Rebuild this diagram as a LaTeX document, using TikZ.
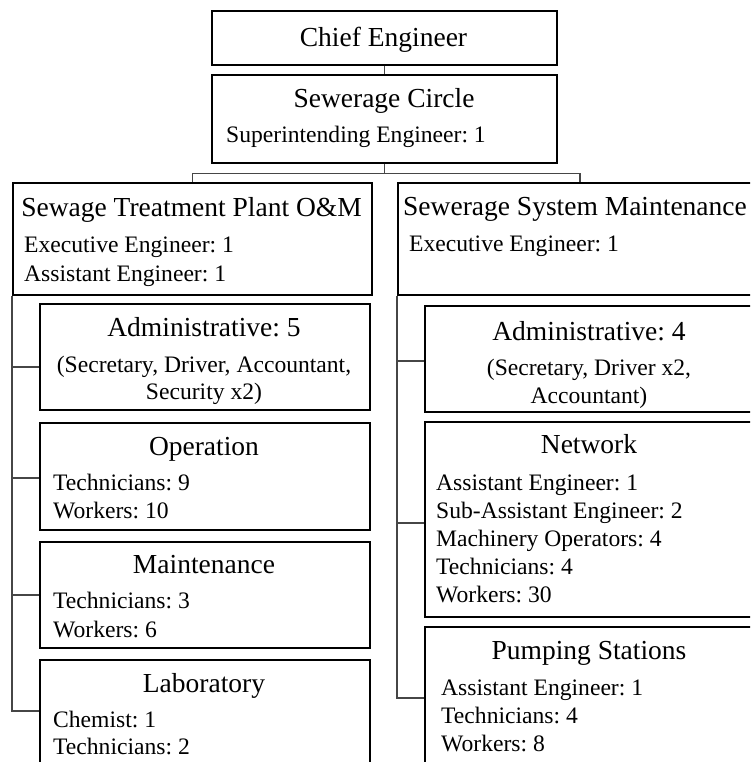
\documentclass[tikz,border=0pt]{standalone}
\usepackage{fontspec}
\setmainfont{Liberation Serif}
\frenchspacing
\definecolor{linkgray}{RGB}{70,70,70}
\begin{document}
\begin{tikzpicture}[x=1pt,y=-1pt,
  box/.style={draw=black,line width=1.8pt,inner sep=0pt,anchor=north west},
  conn/.style={draw=linkgray,line width=1.3pt},
  ttl/.style={inner sep=0pt,anchor=base,font=\fontsize{27.5pt}{33pt}\selectfont},
  ttlL/.style={inner sep=0pt,anchor=base west,font=\fontsize{27.5pt}{33pt}\selectfont},
  txt/.style={inner sep=0pt,anchor=base west,font=\fontsize{23.6pt}{28pt}\selectfont},
  txtC/.style={inner sep=0pt,anchor=base,font=\fontsize{23.6pt}{28pt}\selectfont}]
\useasboundingbox (0,0) rectangle (750,762);
\clip (0,0) rectangle (750,762);

% boxes
\node[box,minimum width=345pt,minimum height=54pt] (chief) at (211,10) {};
\node[box,minimum width=345pt,minimum height=88pt] (circle) at (211,74) {};
\node[box,minimum width=359pt,minimum height=112pt] (stp) at (12,182) {};
\node[box,minimum width=358pt,minimum height=112pt] (ssm) at (397,182) {};
\node[box,minimum width=330pt,minimum height=106pt] (adm5) at (39,303) {};
\node[box,minimum width=330pt,minimum height=107pt] (oper) at (39,422) {};
\node[box,minimum width=330pt,minimum height=106pt] (maint) at (39,541) {};
\node[box,minimum width=330pt,minimum height=111pt] (lab) at (39,659) {};
\node[box,minimum width=331pt,minimum height=106pt] (adm4) at (424,305) {};
\node[box,minimum width=331pt,minimum height=195pt] (net) at (424,421) {};
\node[box,minimum width=331pt,minimum height=149pt] (pump) at (424,626) {};

% connectors
\draw[conn] (chief.south) -- (circle.north);
\coordinate (busmid) at ([yshift=-10pt]circle.south);
\draw[conn] (circle.south) -- (busmid);
\draw[conn] (busmid) -| (stp.north);
\draw[conn] (busmid) -| ([xshift=3pt]ssm.north);
\draw[conn] (stp.south west) |- ([yshift=-10pt]adm5.west);
\draw[conn] (stp.south west) |- ([yshift=-1.5pt]oper.west);
\draw[conn] (stp.south west) |- (maint.west);
\draw[conn] (stp.south west) |- ([yshift=4.5pt]lab.west);
\draw[conn] (ssm.south west) |- ([yshift=-2pt]adm4.west);
\draw[conn] (ssm.south west) |- ([yshift=-3.5pt]net.west);
\draw[conn] (ssm.south west) |- ([yshift=3.5pt]pump.west);

% texts
\node[ttl] (tchief) at (383.5,47) {Chief Engineer};
\node[ttl] (tcircle) at (384,108) {Sewerage Circle};
\node[txt] at (226,143) {Superintending Engineer: 1};

\node[ttl] (tstp) at (191.5,216) {Sewage Treatment Plant O\&M};
\node[txt] at (24,252) {Executive Engineer: 1};
\node[txt] at (24,281) {Assistant Engineer: 1};

\node[ttlL] (tssm) at (403,215) {Sewerage System Maintenance};
\node[txt] at (409,251) {Executive Engineer: 1};

\node[ttl] (tadm5) at (204,336) {Administrative: 5};
\node[txtC] at (204,372) {(Secretary, Driver, Accountant,};
\node[txtC] at (204,399) {Security x2)};

\node[ttl] (toper) at (204,455) {Operation};
\node[txt] at (53,490) {Technicians: 9};
\node[txt] at (53,518) {Workers: 10};

\node[ttl] (tmaint) at (204,573) {Maintenance};
\node[txt] at (53,608) {Technicians: 3};
\node[txt] at (53,637) {Workers: 6};

\node[ttl] (tlab) at (204,692) {Laboratory};
\node[txt] at (53,727) {Chemist: 1};
\node[txt] at (53,754) {Technicians: 2};

\node[ttl] (tadm4) at (589,340) {Administrative: 4};
\node[txtC] at (589,375) {(Secretary, Driver x2,};
\node[txtC] at (589,403) {Accountant)};

\node[ttl] (tnet) at (589,453) {Network};
\node[txt] at (436,490) {Assistant Engineer: 1};
\node[txt] at (436,518) {Sub-Assistant Engineer: 2};
\node[txt] at (436,546) {Machinery Operators: 4};
\node[txt] at (436,574) {Technicians: 4};
\node[txt] at (436,602) {Workers: 30};

\node[ttl] (tpump) at (589,659) {Pumping Stations};
\node[txt] at (441,695) {Assistant Engineer: 1};
\node[txt] at (441,723) {Technicians: 4};
\node[txt] at (441,751) {Workers: 8};
\end{tikzpicture}
\end{document}
